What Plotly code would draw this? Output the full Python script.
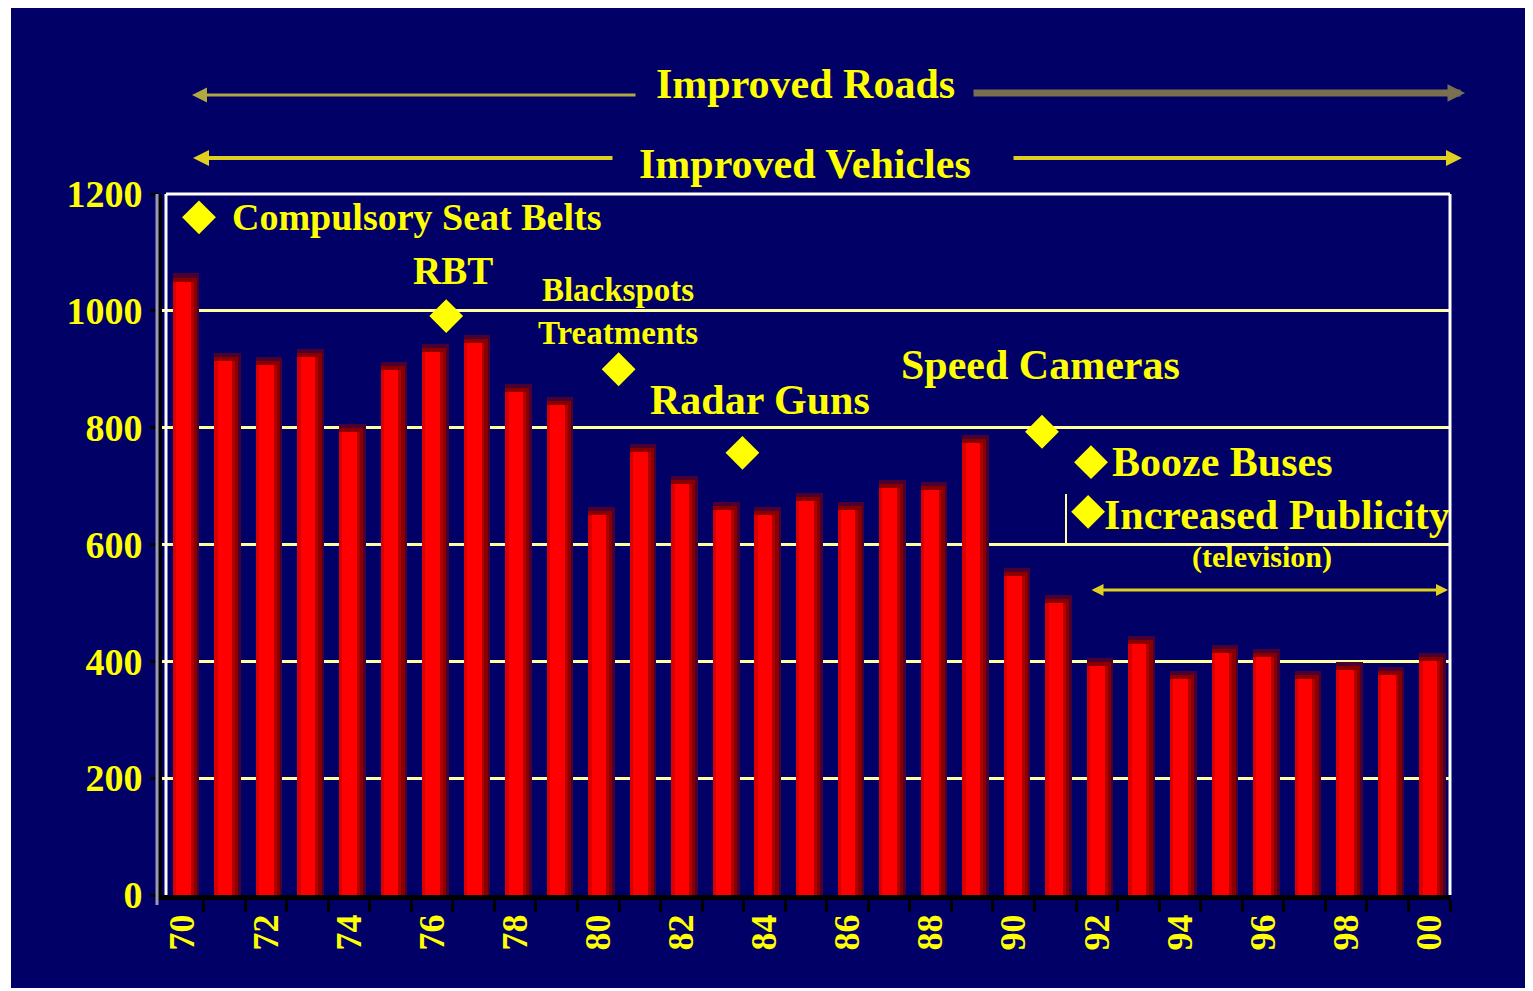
import plotly.graph_objects as go

# road deaths per year, 1970-2000
years = list(range(1970, 2001))
deaths = [1050, 914, 907, 921, 792, 898, 929, 945, 861, 838,
          651, 758, 703, 659, 651, 675, 659, 697, 693, 773,
          546, 500, 392, 429, 369, 414, 407, 369, 385, 376, 400]
tick_years = years[::2]
tick_labels = ['70', '72', '74', '76', '78', '80', '82', '84',
               '86', '88', '90', '92', '94', '96', '98', '00']

# countermeasures: where each diamond sits (year, level)
event_names = ['Compulsory Seat Belts', 'RBT', 'Blackspots<br>Treatments',
               'Radar Guns', 'Speed Cameras', 'Booze Buses', 'Increased Publicity']
event_years = [1970.39, 1976.34, 1980.49, 1983.47, 1990.68, 1991.86, 1991.79]
event_levels = [1160, 991, 900, 757, 793, 741, 656]

NAVY = '#000066'
YELLOW = '#ffff00'
FONT = 'Liberation Serif'

# the page has an 8px body margin, so page pixels are shifted by it
PAD = 8
# plot area in page pixels: x 162..1450, y 194..895
L, R, T, B = 162, 1450, 194, 895


def px(x, y):
    return (x - L) / (R - L), (B - y) / (B - T)


fig = go.Figure()

cap = 14
fig.add_bar(x=years, y=[v + cap for v in deaths], width=0.64, offset=-0.24,
            marker=dict(color='#4a0030', line_width=0), hoverinfo='skip')
fig.add_bar(x=years, y=[v + cap / 2 for v in deaths], width=0.58, offset=-0.24,
            marker=dict(color='#8a0000', line_width=0), hoverinfo='skip')
fig.add_bar(x=years, y=deaths, width=0.5, offset=-0.24,
            marker=dict(color='#b00000', line_width=0), hoverinfo='skip')
fig.add_bar(x=years, y=deaths, width=0.43, offset=-0.24,
            marker=dict(color='#ff0000', line_width=0))
fig.add_bar(x=years, y=deaths, width=0.08, offset=-0.24,
            marker=dict(color='#d80000', line_width=0), hoverinfo='skip')

fig.add_scatter(x=event_years, y=event_levels, mode='markers',
                marker=dict(symbol='diamond', size=26, color=YELLOW),
                cliponaxis=False, hoverinfo='skip')

annotations = []


def label(text, x, y, size, anchor='center'):
    ax_, ay_ = px(x, y)
    annotations.append(dict(text=text, x=ax_, y=ay_, xref='paper', yref='paper',
                            xanchor=anchor, yanchor='middle', showarrow=False,
                            font=dict(family=FONT, size=size, color=YELLOW, weight='bold')))


def arrow(x_head, y_head, x_tail, color, width, size=1.0, side='end'):
    hx, hy = px(x_head, y_head)
    annotations.append(dict(text='', x=hx, y=hy, xref='paper', yref='paper',
                            ax=x_tail - x_head, ay=0, axref='pixel', ayref='pixel',
                            showarrow=True, arrowhead=2, arrowsize=size,
                            arrowwidth=width, arrowcolor=color, arrowside=side))


# banner lines above the chart
label('Improved Roads', 805, 84, 42)
arrow(192, 95, 637, '#b0a840', 3)
arrow(1465, 93, 972, '#787050', 7, size=0.5)
label('Improved Vehicles', 805, 164, 42)
arrow(193, 158, 614, '#e0d020', 4, size=0.8)
arrow(1462, 158, 1012, '#e0d020', 4, size=0.8)

# countermeasure labels
label(event_names[0], 230, 217, 38, 'left')
label(event_names[1], 453, 270, 39)
label(event_names[2], 618, 311, 33)
label(event_names[3], 760, 400, 42)
label(event_names[4], 1040, 365, 42)
label(event_names[5], 1110, 462, 42, 'left')
label(event_names[6], 1102, 515, 42, 'left')
label('(television)', 1262, 557, 30)
arrow(1448, 590, 1090, '#e0d020', 3, size=0.8, side='end+start')

shapes = [
    # navy panel with thin white surround
    dict(type='rect', xref='paper', yref='paper', layer='below',
         x0=px(11, 0)[0], x1=px(1530, 0)[0], y0=px(0, 988)[1], y1=px(0, 5)[1],
         fillcolor=NAVY, line_width=0),
    # white frame of the plot area
    dict(type='line', xref='paper', yref='paper', x0=px(166, 0)[0], x1=1,
         y0=1, y1=1, line=dict(color='white', width=3)),
    dict(type='line', xref='paper', yref='paper', x0=1, x1=1,
         y0=0, y1=1, line=dict(color='white', width=3)),
    dict(type='line', xref='paper', yref='paper', x0=px(166, 0)[0], x1=px(166, 0)[0],
         y0=0, y1=1, line=dict(color='white', width=3)),
    dict(type='line', xref='paper', yref='paper', x0=px(157, 0)[0], x1=px(157, 0)[0],
         y0=px(0, 905)[1], y1=1, line=dict(color='#9a9ab4', width=3)),
    # bracket by Increased Publicity
    dict(type='line', xref='paper', yref='paper', x0=px(1066, 0)[0], x1=px(1066, 0)[0],
         y0=px(0, 545)[1], y1=px(0, 494)[1], line=dict(color='#ffffa0', width=2)),
]

fig.update_layout(
    width=1533, height=991,
    margin=dict(l=L - PAD, r=1533 - R + PAD, t=T - PAD, b=991 - B + PAD),
    paper_bgcolor='white',
    plot_bgcolor='rgba(0,0,0,0)',
    barmode='overlay',
    bargap=0,
    showlegend=False,
    annotations=annotations,
    shapes=shapes,
    font=dict(family=FONT, color=YELLOW),
)

fig.update_xaxes(
    range=[1969.5, 2000.5],
    tickmode='array', tickvals=tick_years, ticktext=tick_labels,
    ticks='', tickangle=-90,
    tickfont=dict(family=FONT, size=36, color=YELLOW, weight='bold'),
    showgrid=False, zeroline=False,
    showline=True, linecolor='black', linewidth=5,
    minor=dict(tickmode='array', tickvals=[y - 0.5 for y in years[1:]] + [2000.5],
               ticks='outside', ticklen=12, tickwidth=3, tickcolor='black', showgrid=False),
)

fig.update_yaxes(
    range=[0, 1200], dtick=200,
    ticks='outside', ticklen=8, tickwidth=3, tickcolor='black',
    tickfont=dict(family=FONT, size=38, color=YELLOW, weight='bold'),
    showgrid=True, gridcolor='#ffffa0', gridwidth=3,
    zeroline=False,
    showline=True, linecolor='black', linewidth=4,
)

fig.write_html('out.html')
